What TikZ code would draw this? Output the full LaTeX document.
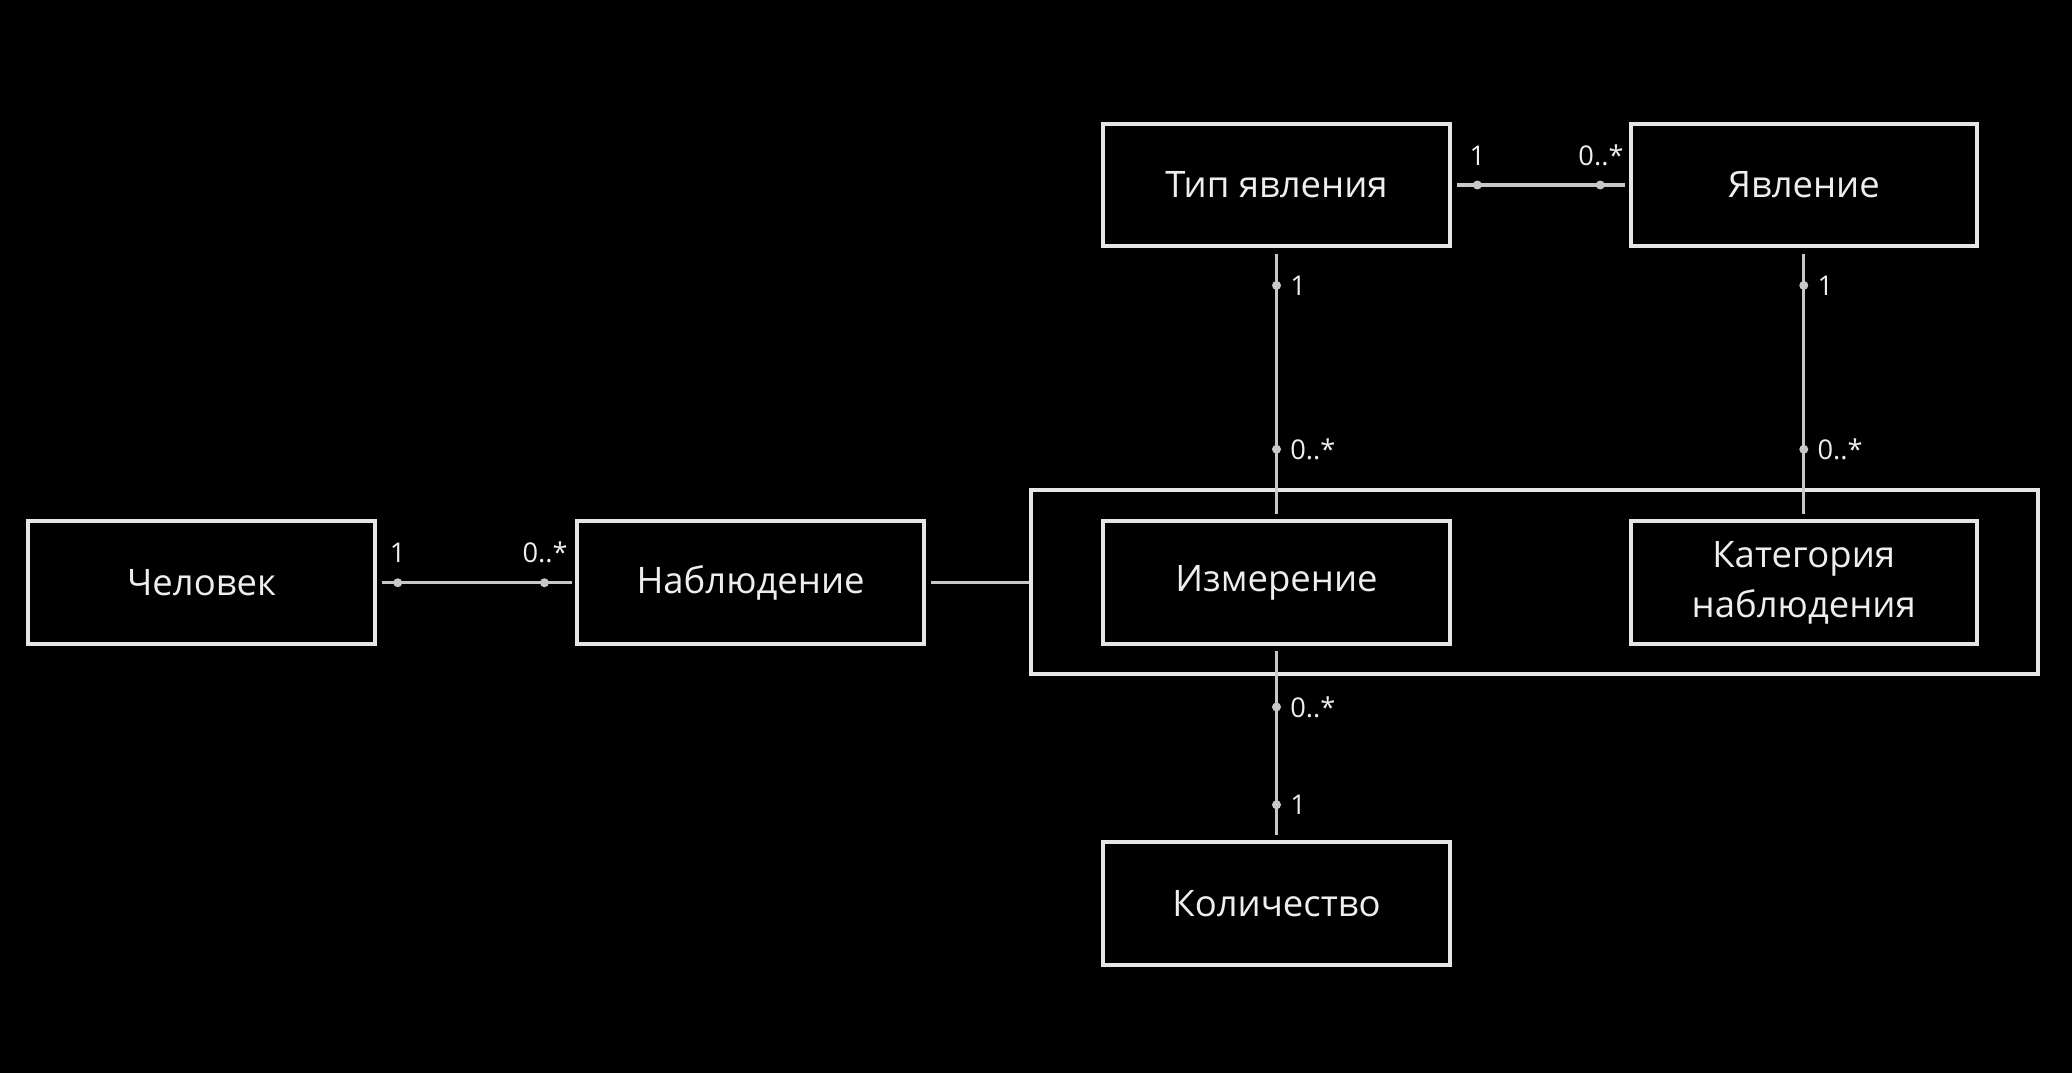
\documentclass[tikz,border=0pt]{standalone}
\usepackage{fontspec}
\setmainfont{Open Sans}
\begin{document}
\begin{tikzpicture}[x=0.5pt,y=-0.5pt,
  box/.style={draw=boxc,line width=1.5pt,fill=black,minimum width=131pt,minimum height=46.5pt,inner sep=0pt,text=textc,font=\fontsize{13.8}{19}\selectfont,align=center},
  conn/.style={draw=linec,line width=1.3pt},
  lbl/.style={text=textc,font=\fontsize{10.3}{12}\selectfont,inner sep=0pt},
  dotc/.style={fill=linec,draw=none,circle,minimum size=3.4pt,inner sep=0pt}]
\definecolor{boxc}{HTML}{E6E6E6}
\definecolor{linec}{HTML}{C8C8C8}
\definecolor{textc}{HTML}{EEEEEE}
\fill[black] (0,0) rectangle (1568,812);
\useasboundingbox (0,0) rectangle (1568,812);
% group box
\draw[boxc,line width=1.5pt] (780,371) rectangle (1542,510);
\node[box] (chel) at (152.5,441) {Человек};
\node[box] (nabl) at (568,441) {Наблюдение};
\node[box] (izm) at (966,441) {Измерение};
\node[box] (kat) at (1365,441) {Категория\\наблюдения};
\node[box] (tip) at (966,140) {Тип явления};
\node[box] (yav) at (1365,140) {Явление};
\node[box] (kol) at (966,684) {Количество};
\coordinate (grpL) at (779,441);
% connectors
\draw[conn,shorten <=2pt,shorten >=1.5pt] (chel.east) -- (nabl.west);
\node[dotc] at (301,441) {}; \node[dotc] at (412,441) {};
\node[lbl,anchor=south] at (301,426) {1};
\node[lbl,anchor=south east] at (430,426) {0..*};
\draw[conn,shorten <=2pt] (nabl.east) -- (grpL);
\draw[conn,shorten <=2pt,shorten >=1.5pt] (tip.east) -- (yav.west);
\node[dotc] at (1118,140) {}; \node[dotc] at (1211,140) {};
\node[lbl,anchor=south] at (1118,126) {1};
\node[lbl,anchor=south east] at (1229,126) {0..*};
\draw[conn,shorten <=2pt,shorten >=2pt] (tip.south) -- (izm.north);
\node[dotc] at (966,216) {}; \node[dotc] at (966,340) {};
\node[lbl,anchor=west] at (976,216) {1};
\node[lbl,anchor=west] at (976,340) {0..*};
\draw[conn,shorten <=2pt,shorten >=2pt] (yav.south) -- (kat.north);
\node[dotc] at (1365,216) {}; \node[dotc] at (1365,340) {};
\node[lbl,anchor=west] at (1375,216) {1};
\node[lbl,anchor=west] at (1375,340) {0..*};
\draw[conn,shorten <=2pt,shorten >=2pt] (izm.south) -- (kol.north);
\node[dotc] at (966,535) {}; \node[dotc] at (966,609) {};
\node[lbl,anchor=west] at (976,535) {0..*};
\node[lbl,anchor=west] at (976,609) {1};
\end{tikzpicture}
\end{document}
